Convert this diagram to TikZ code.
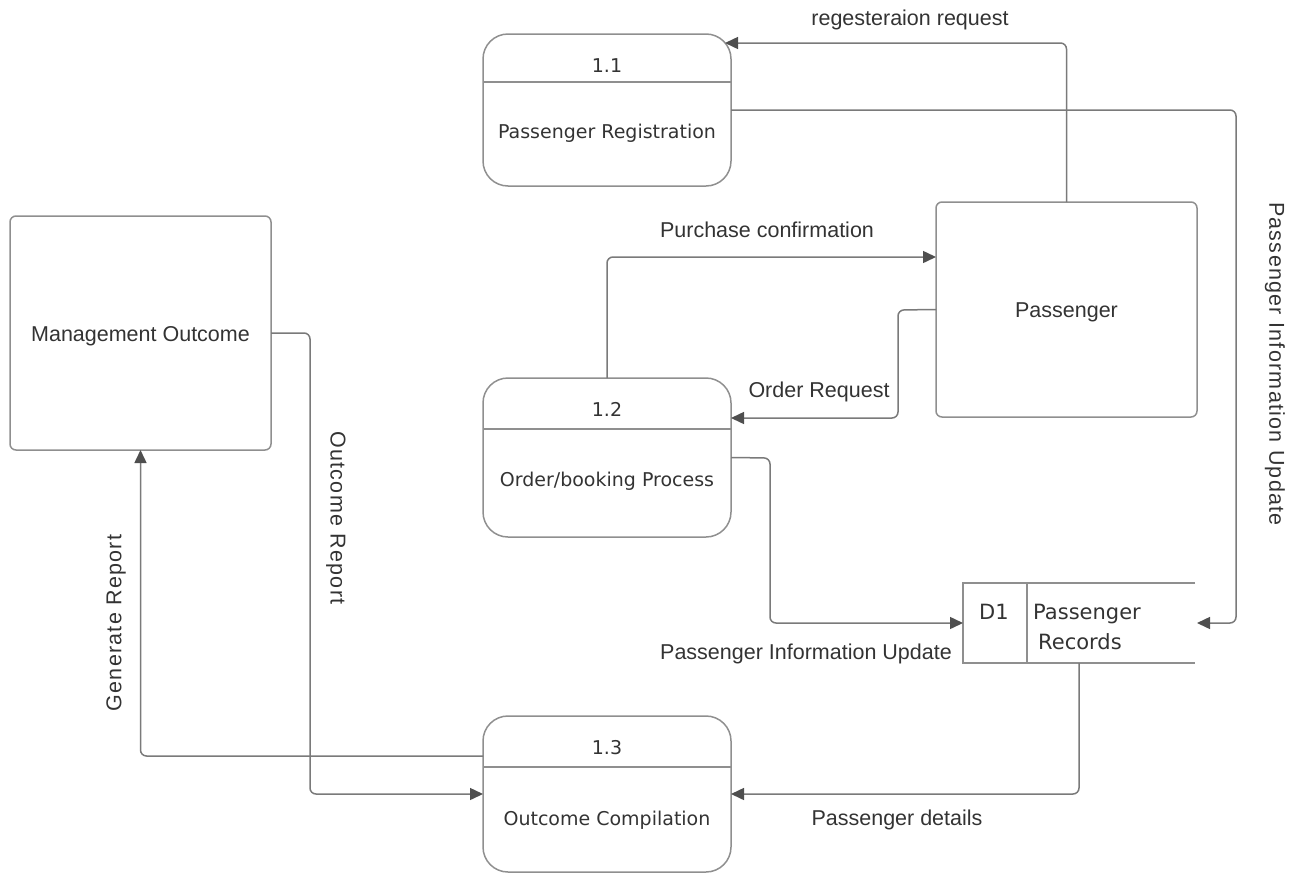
\documentclass[tikz,border=0pt]{standalone}
\usepackage{fontspec}
\setmainfont{Liberation Sans}
\newfontfamily\procfont{DejaVu Sans}
\newfontfamily\spacedfont[LetterSpace=6]{Liberation Sans}
\usetikzlibrary{arrows.meta}

\definecolor{boxline}{HTML}{8F8F8F}
\definecolor{flowline}{HTML}{7A7A7A}
\definecolor{tipfill}{HTML}{4F4F4F}
\definecolor{txt}{HTML}{333333}

\tikzset{
  procbox/.style={draw=boxline, line width=1.5pt, rounded corners=25pt,
    minimum width=248pt, outer sep=0pt, inner sep=0pt},
  entity/.style={draw=boxline, line width=1.5pt, rounded corners=6pt,
    minimum width=261pt, outer sep=0pt, inner sep=0pt},
  storebox/.style={minimum width=232pt, minimum height=80pt, outer sep=0pt, inner sep=0pt},
  divider/.style={draw=boxline, line width=1.5pt},
  proctext/.style={font=\procfont\fontsize{19}{22}\selectfont, text=txt, anchor=base, inner sep=0pt},
  storetext/.style={font=\procfont\fontsize{21}{24}\selectfont, text=txt, anchor=base west, inner sep=0pt},
  enttext/.style={font=\fontsize{21.5}{25}\selectfont, text=txt, anchor=base, inner sep=0pt},
  flowlabel/.style={font=\fontsize{21.5}{25}\selectfont, text=txt, inner sep=0pt},
  vlabel/.style={font=\spacedfont\fontsize{21.5}{25}\selectfont, text=txt, inner sep=0pt},
  flow/.style={draw=flowline, line width=1.5pt, rounded corners=6pt,
    -{Triangle[length=13pt,width=12pt,fill=tipfill,color=tipfill]}},
}

\begin{document}
\begin{tikzpicture}[x=1pt,y=-1pt]
\useasboundingbox (0,0) rectangle (1299,873);

% processes
\node[procbox, minimum height=152pt] (p11) at (607,110) {};
\node[procbox, minimum height=159pt] (p12) at (607,457.5) {};
\node[procbox, minimum height=156pt] (p13) at (607,794) {};
\draw[divider] ([yshift=-48pt]p11.north west) -- ([yshift=-48pt]p11.north east);
\draw[divider] ([yshift=-51pt]p12.north west) -- ([yshift=-51pt]p12.north east);
\draw[divider] ([yshift=-51pt]p13.north west) -- ([yshift=-51pt]p13.north east);

\node[proctext] (n11) at ([yshift=-38pt]p11.north) {1.1};
\node[proctext] (t11) at ([yshift=-104pt]p11.north) {Passenger Registration};
\node[proctext] (n12) at ([yshift=-38pt]p12.north) {1.2};
\node[proctext] (t12) at ([yshift=-108pt]p12.north) {Order/booking Process};
\node[proctext] (n13) at ([yshift=-38pt]p13.north) {1.3};
\node[proctext] (t13) at ([yshift=-109pt]p13.north) {Outcome Compilation};

% external entities
\node[entity, minimum height=234pt] (mgmt) at (140.5,333) {};
\node[enttext] (mgmtt) at ([yshift=-8.5pt]mgmt.center) {Management Outcome};
\node[entity, minimum height=215pt] (pass) at (1066.5,309.5) {};
\node[enttext] (passt) at ([yshift=-8pt]pass.center) {Passenger};

% data store (open on the right)
\node[storebox] (d1) at (1079,623) {};
\draw[divider] (d1.north east) -- (d1.north west) -- (d1.south west) -- (d1.south east);
\coordinate (d1split) at ([xshift=64pt]d1.north west);
\draw[divider] (d1split) -- (d1split |- d1.south);
\node[storetext] (d1id) at (979,619) {D1};
\node[storetext] (d1a) at (1033,619) {Passenger};
\node[storetext] (d1b) at (1038,649) {Records};

% data flows
\coordinate (regtip) at ([xshift=-6pt,yshift=67pt]p11.east);
\draw[flow] (pass.north) |- (regtip);
\node[flowlabel] (l1) at (910,20) {regesteraion request};

\coordinate (piuR) at (1236,110);
\draw[flow] (p11.east) -- (piuR) |- ([xshift=2pt]d1.east);
\node[vlabel, rotate=-90] (l2) at (1275,364) {Passenger Information Update};

\coordinate (pcTip) at ([yshift=52.5pt]pass.west);
\draw[flow] (p12.north) |- (pcTip);
\node[flowlabel] (l3) at (767,230) {Purchase confirmation};

\coordinate (orBend) at (898,310);
\draw[flow] (pass.west) -- (orBend) |- ([yshift=39.5pt]p12.east);
\node[flowlabel] (l4) at (819,392) {Order Request};

\coordinate (piuL) at (770,458);
\draw[flow] (p12.east) -- (piuL) |- (d1.west);
\node[flowlabel] (l5) at (806,654) {Passenger Information Update};

\draw[flow] (d1.south) |- (p13.east);
\node[flowlabel] (l6) at (897,820) {Passenger details};

\draw[flow] ([yshift=38pt]p13.west) -| (mgmt.south);
\node[vlabel, rotate=90] (l7) at (116,623) {Generate Report};

\coordinate (orBend2) at (310,333);
\draw[flow] (mgmt.east) -- (orBend2) |- (p13.west);
\node[vlabel, rotate=-90] (l8) at (336,518) {Outcome Report};
\end{tikzpicture}
\end{document}
